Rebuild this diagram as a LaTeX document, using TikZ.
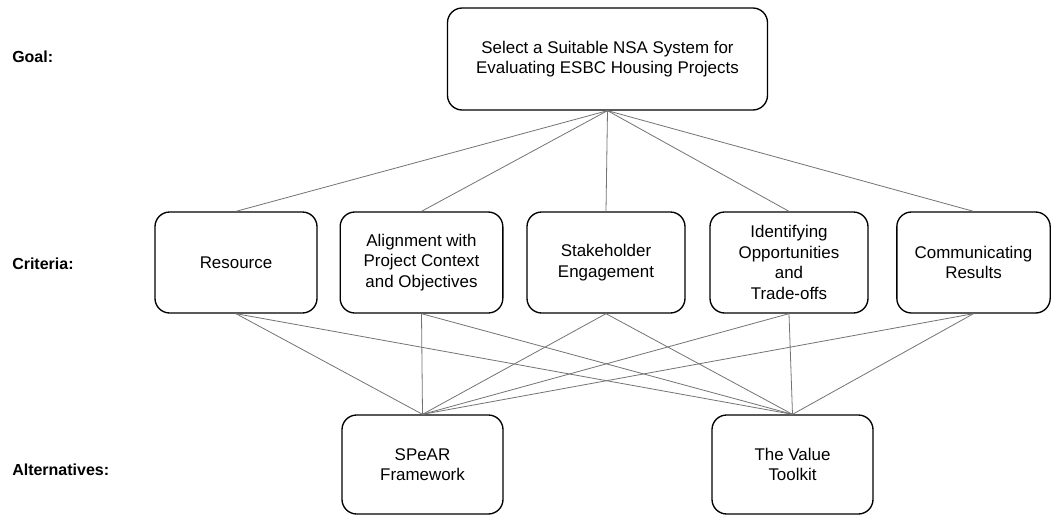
\documentclass[tikz,border=0pt]{standalone}
\usepackage{fontspec}
\setmainfont{Liberation Sans}
\usetikzlibrary{positioning}

\begin{document}
\begin{tikzpicture}[x=0.75pt,y=-0.75pt,
        box/.style={draw,line width=1pt,rounded corners=11pt,align=center,
                    font=\fontsize{12.7}{15.4}\selectfont,inner sep=2pt},
        crit/.style={box,minimum height=75.75pt},
        alt/.style={box,minimum width=120.75pt,minimum height=74.25pt},
        link/.style={draw=black!55,line width=0.6pt},
        livello/.style={anchor=west,inner sep=0pt,font=\bfseries\fontsize{12}{14.6}\selectfont}]

        % Cornice
    \useasboundingbox (0,0) rectangle (1051,515);

        % Etichette dei livelli
    \node[livello] (lGoal) at (12,57) {Goal:};
    \node[livello] (lCrit) at (12,264) {Criteria:};
    \node[livello] (lAlt)  at (12,470) {Alternatives:};

        % Obiettivo
    \node[box,minimum width=240pt,minimum height=76.5pt] (goal) at (607.5,59)
         {Select a Suitable NSA System for\\Evaluating ESBC Housing Projects};

        % Criteri
    \node[crit,minimum width=121.5pt] (resource) at (236,262.5) {Resource};
    \node[crit,minimum width=122pt]   (align)    at (421.5,262.5)
         {Alignment with\\Project Context\\and Objectives};
    \node[crit,minimum width=118.5pt] (stake)    at (606,262.5) {Stakeholder\\Engagement};
    \node[crit,minimum width=118.5pt] (ident)    at (789,262.5)
         {Identifying\\Opportunities\\and\\Trade-offs};
    \node[crit,minimum width=115pt]   (comm)     at (973.5,262.5) {Communicating\\Results};

        % Alternative
    \node[alt] (spear)   at (422.5,464.5) {SPeAR\\Framework};
    \node[alt] (toolkit) at (792.5,464.5) {The Value\\Toolkit};

        % Collegamenti obiettivo - criteri
    \foreach \c in {resource,align,stake,ident,comm}
        \draw[link] (goal.south) -- (\c.north);

        % Collegamenti criteri - alternative
    \foreach \c in {resource,align,stake,ident,comm}{
        \draw[link] (\c.south) -- (spear.north);
        \draw[link] (\c.south) -- (toolkit.north);
    }

\end{tikzpicture}
\end{document}
